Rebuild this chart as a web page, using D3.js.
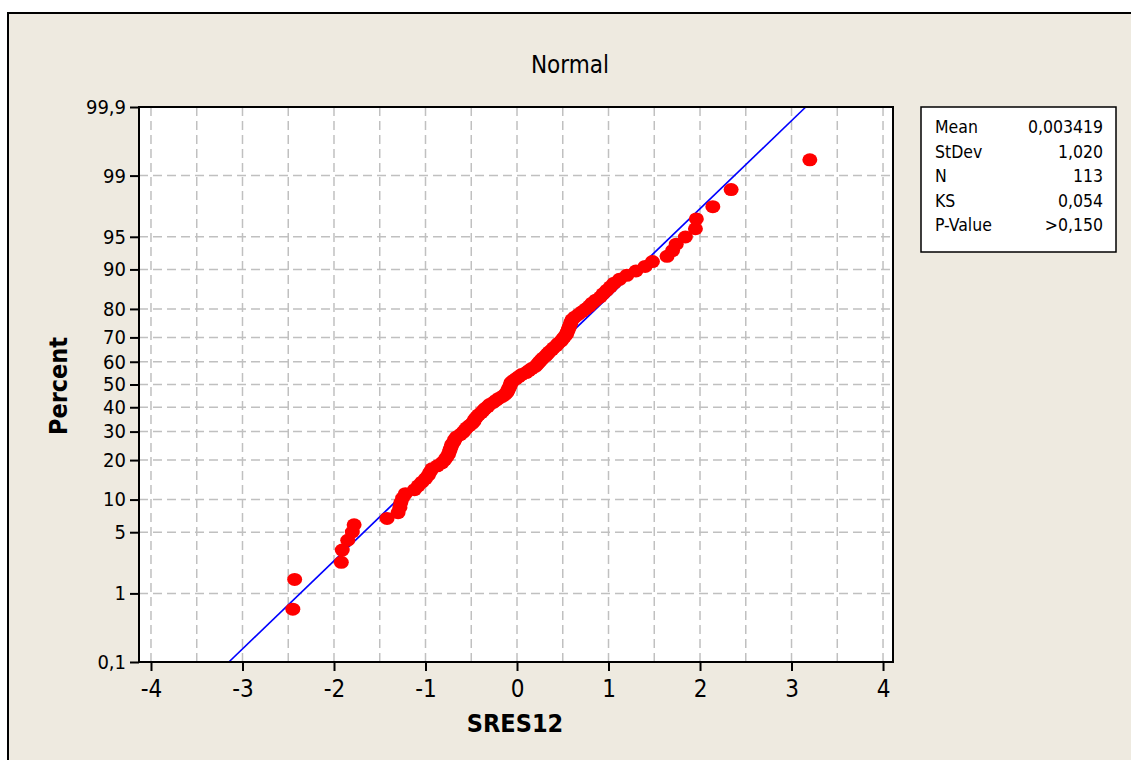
<!DOCTYPE html>
<html>
<head>
<meta charset="utf-8">
<script src="https://cdn.jsdelivr.net/npm/d3@7"></script>
<style>
    body { margin: 0; background: #ffffff; }
    text { font-family: "DejaVu Sans Condensed", "DejaVu Sans", sans-serif; fill: #000; }
</style>
</head>
<body>
<div id="chart"></div>
<script>
// sorted standardized residuals
var resid = [
    -2.45, -2.43, -1.92, -1.91, -1.85, -1.80, -1.78, -1.42, -1.30, -1.28,
    -1.27, -1.25, -1.22, -1.12, -1.08, -1.04, -1.00, -0.97, -0.95, -0.93,
    -0.87, -0.82, -0.79, -0.77, -0.75, -0.74, -0.73, -0.72, -0.71, -0.69,
    -0.68, -0.66, -0.62, -0.59, -0.57, -0.55, -0.52, -0.49, -0.47, -0.46,
    -0.44, -0.42, -0.39, -0.37, -0.35, -0.32, -0.30, -0.26, -0.23, -0.20,
    -0.16, -0.13, -0.11, -0.10, -0.09, -0.08, -0.07, -0.066, -0.04, -0.01,
    0.02, 0.05, 0.10, 0.13, 0.16, 0.20, 0.22, 0.24, 0.26, 0.28,
    0.31, 0.33, 0.35, 0.38, 0.40, 0.43, 0.45, 0.48, 0.50, 0.52,
    0.54, 0.55, 0.56, 0.57, 0.58, 0.59, 0.60, 0.63, 0.67, 0.71,
    0.75, 0.79, 0.82, 0.86, 0.91, 0.94, 0.98, 1.02, 1.06, 1.12,
    1.20, 1.30, 1.40, 1.48, 1.64, 1.70, 1.74, 1.84, 1.95, 1.96,
    2.14, 2.34, 3.20
];

var xTicks = [-4, -3, -2, -1, 0, 1, 2, 3, 4];
var xGrid = [-4, -3.5, -3, -2.5, -2, -1.5, -1, -0.5, 0, 0.5, 1, 1.5, 2, 2.5, 3, 3.5, 4];
var yTicks = [0.1, 1, 5, 10, 20, 30, 40, 50, 60, 70, 80, 90, 95, 99, 99.9];
var yTickLabels = ['0,1', '1', '5', '10', '20', '30', '40', '50', '60', '70', '80', '90', '95', '99', '99,9'];

var fitMean = 0.003419;
var fitSd = 1.020;
var fitPct = [0.1, 99.9];

var statLabels = ['Mean', 'StDev', 'N', 'KS', 'P-Value'];
var statValues = ['0,003419', '1,020', '113', '0,054', '>0,150'];

var width = 1131;
var height = 760;

// inverse normal cdf (Acklam)
function probit(p){
    var a = [-3.969683028665376e+01, 2.209460984245205e+02, -2.759285104469687e+02, 1.383577518672690e+02, -3.066479806614716e+01, 2.506628277459239e+00];
    var b = [-5.447609879822406e+01, 1.615858368580409e+02, -1.556989798598866e+02, 6.680131188771972e+01, -1.328068155288572e+01];
    var c = [-7.784894002430293e-03, -3.223964580411365e-01, -2.400758277161838e+00, -2.549732539343734e+00, 4.374664141464968e+00, 2.938163982698783e+00];
    var d = [7.784695709041462e-03, 3.224671290700398e-01, 2.445134137142996e+00, 3.754408661907416e+00];
    var plow = 0.02425, q, r;
    if (p < plow) {
        q = Math.sqrt(-2 * Math.log(p));
        return (((((c[0]*q+c[1])*q+c[2])*q+c[3])*q+c[4])*q+c[5]) / ((((d[0]*q+d[1])*q+d[2])*q+d[3])*q+1);
    }
    if (p > 1 - plow) {
        q = Math.sqrt(-2 * Math.log(1 - p));
        return -(((((c[0]*q+c[1])*q+c[2])*q+c[3])*q+c[4])*q+c[5]) / ((((d[0]*q+d[1])*q+d[2])*q+d[3])*q+1);
    }
    q = p - 0.5;
    r = q * q;
    return (((((a[0]*r+a[1])*r+a[2])*r+a[3])*r+a[4])*r+a[5])*q / (((((b[0]*r+b[1])*r+b[2])*r+b[3])*r+b[4])*r+1);
}

var svg = d3.select('#chart')
    .append('svg')
    .attr('width', width)
    .attr('height', height)
    .style('display', 'block');

// beige frame, runs off the right/bottom of the picture
svg.append('rect')
    .attr('x', 8)
    .attr('y', 13)
    .attr('width', 1200)
    .attr('height', 800)
    .style('fill', '#eeeae0')
    .style('stroke', '#000')
    .style('stroke-width', 2);

var plot = {left: 139, right: 893, top: 107, bottom: 662};

var x = d3.scaleLinear()
    .domain([-4.131, 4.109])
    .range([plot.left, plot.right]);

var y = d3.scaleLinear()
    .domain([probit(0.001), probit(0.999)])
    .range([plot.bottom, plot.top]);

function yPct(v){ return y(probit(v / 100)); }

svg.append('rect')
    .attr('x', plot.left)
    .attr('y', plot.top)
    .attr('width', plot.right - plot.left)
    .attr('height', plot.bottom - plot.top)
    .style('fill', '#fff');

// grid
var grid = svg.append('g').attr('class', 'grid')
    .style('stroke', '#c0c0c0')
    .style('stroke-width', 1.5)
    .style('stroke-dasharray', '9,5');

grid.selectAll('.vg')
    .data(xGrid)
    .enter().append('line')
    .attr('x1', function(d){ return x(d); })
    .attr('x2', function(d){ return x(d); })
    .attr('y1', plot.top)
    .attr('y2', plot.bottom);

grid.selectAll('.hg')
    .data(yTicks.slice(1, -1))
    .enter().append('line')
    .attr('x1', plot.left)
    .attr('x2', plot.right)
    .attr('y1', function(d){ return yPct(d); })
    .attr('y2', function(d){ return yPct(d); });

// fitted normal line
var fitLine = d3.line()
    .x(function(d){ return x(fitMean + fitSd * probit(d / 100)); })
    .y(function(d){ return yPct(d); });

svg.append('path')
    .datum(fitPct)
    .attr('d', fitLine)
    .style('fill', 'none')
    .style('stroke', '#0000ff')
    .style('stroke-width', 1.7);

// points at median ranks (Benard), as the probability plot places them
var n = resid.length;
svg.append('g').selectAll('ellipse')
    .data(resid)
    .enter().append('ellipse')
    .attr('cx', function(d){ return x(d); })
    .attr('cy', function(d, i){ return y(probit((i + 1 - 0.3) / (n + 0.4))); })
    .attr('rx', 7.5)
    .attr('ry', 6.5)
    .style('fill', '#ff0000');

// plot border
svg.append('rect')
    .attr('x', plot.left)
    .attr('y', plot.top)
    .attr('width', plot.right - plot.left)
    .attr('height', plot.bottom - plot.top)
    .style('fill', 'none')
    .style('stroke', '#000')
    .style('stroke-width', 2);

// axes
var xAxis = d3.axisBottom(x)
    .tickValues(xTicks)
    .tickSize(9)
    .tickPadding(9)
    .tickFormat(function(d){ return String(d); });

var gx = svg.append('g')
    .attr('transform', 'translate(0,' + plot.bottom + ')')
    .call(xAxis);
gx.select('.domain').remove();
gx.selectAll('line').style('stroke', '#000').style('stroke-width', 2);
gx.selectAll('text')
    .style('font-size', '24px')
    .style('font-family', '"DejaVu Sans Condensed", "DejaVu Sans", sans-serif')
    .style('fill', '#000');

var yAxis = d3.axisLeft(y)
    .tickValues(yTicks.map(function(d){ return probit(d / 100); }))
    .tickSize(9)
    .tickPadding(4)
    .tickFormat(function(d, i){ return yTickLabels[i]; });

var gy = svg.append('g')
    .attr('transform', 'translate(' + plot.left + ',0)')
    .call(yAxis);
gy.select('.domain').remove();
gy.selectAll('line').style('stroke', '#000').style('stroke-width', 2);
gy.selectAll('text')
    .style('font-size', '20px')
    .style('font-family', '"DejaVu Sans Condensed", "DejaVu Sans", sans-serif')
    .style('fill', '#000');

// titles
svg.append('text')
    .attr('x', 570)
    .attr('y', 73)
    .attr('text-anchor', 'middle')
    .style('font-size', '24px')
    .text('Normal');

svg.append('text')
    .attr('x', 515)
    .attr('y', 732)
    .attr('text-anchor', 'middle')
    .style('font-size', '25px')
    .style('font-weight', 'bold')
    .text('SRES12');

svg.append('text')
    .attr('transform', 'translate(67,386) rotate(-90)')
    .attr('text-anchor', 'middle')
    .style('font-size', '25px')
    .style('font-weight', 'bold')
    .text('Percent');

// stats box
var box = svg.append('g').attr('class', 'stats');
box.append('rect')
    .attr('x', 921)
    .attr('y', 107)
    .attr('width', 195)
    .attr('height', 145)
    .style('fill', '#fff')
    .style('stroke', '#000')
    .style('stroke-width', 1.5);

box.selectAll('.lab')
    .data(statLabels)
    .enter().append('text')
    .attr('x', 935)
    .attr('y', function(d, i){ return 133 + i * 24.5; })
    .style('font-size', '17.5px')
    .text(function(d){ return d; });

box.selectAll('.val')
    .data(statValues)
    .enter().append('text')
    .attr('x', 1103)
    .attr('y', function(d, i){ return 133 + i * 24.5; })
    .attr('text-anchor', 'end')
    .style('font-size', '17.5px')
    .text(function(d){ return d; });
</script>
</body>
</html>
